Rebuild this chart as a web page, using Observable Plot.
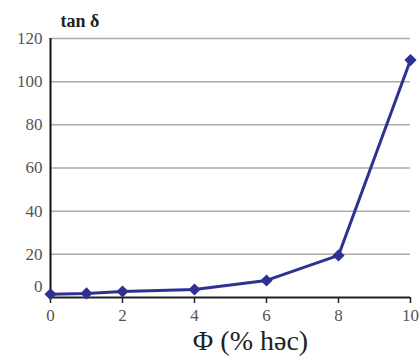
<!DOCTYPE html>
<html><head><meta charset="utf-8">
<script src="https://cdn.jsdelivr.net/npm/d3@7"></script>
<script src="https://cdn.jsdelivr.net/npm/@observablehq/plot@0.6"></script>
<style>body{margin:0;background:#fff}</style>
</head><body><div id="chart"></div>
<script>
const phi = [0, 1, 2, 4, 6, 8, 10];
const tanDelta = [1.5, 1.9, 2.8, 3.7, 7.9, 19.5, 110];
const yTicks = [20, 40, 60, 80, 100, 120];
const xTicks = [0, 2, 4, 6, 8, 10];
const data = phi.map((p, i) => ({phi: p, tan: tanDelta[i]}));
const blue = "#2e3192";
const serif = "'Liberation Serif', 'DejaVu Serif', serif";

const chart = Plot.plot({
  width: 420, height: 362,
  marginTop: 38, marginBottom: 65, marginLeft: 50, marginRight: 10,
  style: {background: "#fff", fontFamily: serif},
  x: {domain: [0, 10], label: null},
  y: {domain: [0, 120], label: null},
  marks: [
    Plot.ruleY(yTicks, {stroke: "#aaa", strokeWidth: 1.5}),
    Plot.axisY(yTicks, {tickSize: 0, tickPadding: 8, fontSize: 17, fontFamily: serif, fill: "#555", label: null}),
    Plot.axisY([0], {tickSize: 0, tickPadding: 8, fontSize: 17, fontFamily: serif, fill: "#555", label: null, dy: -11}),
    Plot.axisX(xTicks, {tickSize: 6, stroke: "#222", strokeWidth: 1.5, tickPadding: 5, fontSize: 17, fontFamily: serif, fill: "#555", label: null}),
    Plot.ruleX([0], {stroke: "#111", strokeWidth: 2}),
    Plot.ruleY([0], {stroke: "#222", strokeWidth: 2}),
    Plot.line(data, {x: "phi", y: "tan", stroke: blue, strokeWidth: 3}),
    Plot.dot(data, {x: "phi", y: "tan", symbol: "diamond2", fill: blue, stroke: blue, r: 4.5}),
    Plot.text(["tan δ"], {frameAnchor: "top-left", dx: 10, dy: -24, fontSize: 18, fontFamily: serif, fontWeight: "bold", fill: "#222", textAnchor: "start"}),
    Plot.text(["Φ (% həc)"], {frameAnchor: "bottom", dx: 20, dy: 52, fontSize: 28, fontFamily: serif, fill: "#222"})
  ]
});
document.getElementById("chart").append(chart);
</script></body></html>
